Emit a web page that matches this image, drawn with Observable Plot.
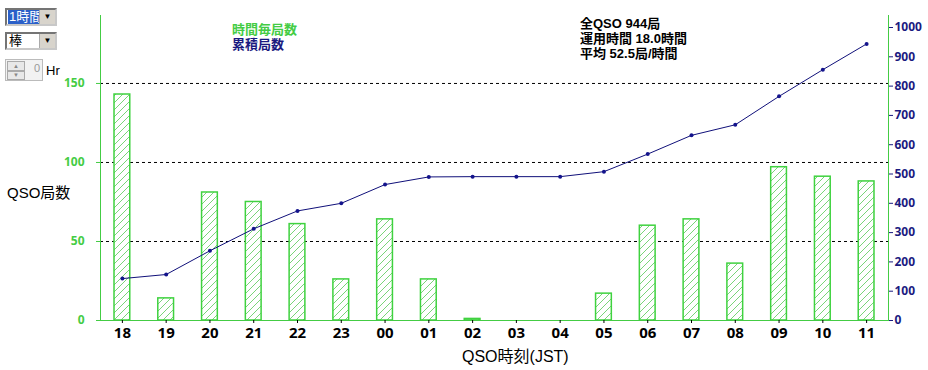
<!DOCTYPE html>
<html>
<head>
<meta charset="utf-8">
<script src="https://cdn.jsdelivr.net/npm/d3@7"></script>
<script src="https://cdn.jsdelivr.net/npm/@observablehq/plot@0.6"></script>
<style>
  html, body { margin: 0; padding: 0; background: #fff; }
  #wrap { position: relative; width: 928px; height: 370px; overflow: hidden; background: #fff;
          font-family: "Liberation Sans", "Noto Sans CJK JP", sans-serif; }
  .ov { position: absolute; white-space: nowrap; line-height: 1; }
  .combo { position: absolute; left: 5px; width: 48px; height: 14px; border: 2px inset #c8c8c8;
           background: #fff; font-size: 13px; }
  .combo .btn { position: absolute; right: 0; top: 0; width: 15px; height: 14px; background: #d8d4cc;
                border-left: 1px solid #aaa; font-size: 8px; text-align: center; line-height: 14px; color: #000; }
  .combo .txt { position: absolute; left: 1px; top: 0; height: 14px; line-height: 14px; padding: 0 1px; }
  #chart svg text { font-family: "Noto Sans", "DejaVu Sans", sans-serif; }
</style>
</head>
<body>
<div id="wrap">
  <div id="chart"></div>
  <div class="combo" style="top:8px;"><span class="txt" style="background:#2a5fc8;color:#fff;">1時間</span><span class="btn">▼</span></div>
  <div class="combo" style="top:32px;"><span class="txt" style="color:#000;">棒</span><span class="btn">▼</span></div>
  <div style="position:absolute;left:5px;top:59px;width:36px;height:20px;border:1px solid #bbb;background:#f2f2f2;">
    <div style="position:absolute;left:1px;top:1px;width:16px;height:8px;border:1px solid #aaa;background:#e8e8e8;font-size:6px;text-align:center;line-height:8px;color:#888;">▲</div>
    <div style="position:absolute;left:1px;top:11px;width:16px;height:7px;border:1px solid #aaa;background:#e8e8e8;font-size:6px;text-align:center;line-height:7px;color:#888;">▼</div>
    <div style="position:absolute;left:28px;top:2px;font-size:11px;color:#999;">0</div>
  </div>
  <div class="ov" style="left:46px;top:64px;font-size:13px;color:#000;">Hr</div>

  <div class="ov" style="left:232px;top:23px;font-size:13px;font-weight:bold;color:#44cc44;">時間毎局数</div>
  <div class="ov" style="left:232px;top:38px;font-size:13px;font-weight:bold;color:#1a1a80;">累積局数</div>

  <div class="ov" style="left:580px;top:17px;font-size:13px;font-weight:bold;color:#000;">全QSO 944局</div>
  <div class="ov" style="left:580px;top:32px;font-size:13px;font-weight:bold;color:#000;">運用時間 18.0時間</div>
  <div class="ov" style="left:580px;top:47px;font-size:13px;font-weight:bold;color:#000;">平均 52.5局/時間</div>

  <div class="ov" style="left:7px;top:185px;font-size:15px;color:#000;">QSO局数</div>
  <div class="ov" style="left:462px;top:349px;font-size:16px;color:#000;">QSO時刻(JST)</div>
</div>
<script>
// ---- data ----
const hours = ["18","19","20","21","22","23","00","01","02","03","04","05","06","07","08","09","10","11"];
const counts = [143, 14, 81, 75, 61, 26, 64, 26, 1, 0, 0, 17, 60, 64, 36, 97, 91, 88];
const cumulative = [143, 157, 238, 313, 374, 400, 464, 490, 491, 491, 491, 508, 568, 632, 668, 765, 856, 944];
const leftTicks = [0, 50, 100, 150];
const gridValues = [50, 100, 150];
const rightTicks = [0, 100, 200, 300, 400, 500, 600, 700, 800, 900, 1000];

const rows = hours.map((h, i) => ({hour: h, count: counts[i], cum: cumulative[i]}));

const leftMax = 193;
const rightMax = 1041;
const k = leftMax / rightMax;

const green = "#44cc44";
const barGreen = "#3fd23f";
const navy = "#1a1a80";

const chart = Plot.plot({
  width: 928,
  height: 370,
  marginTop: 15,
  marginBottom: 50,
  marginLeft: 100,
  marginRight: 40,
  style: {background: "transparent", overflow: "visible"},
  x: {domain: hours, paddingInner: 0.64, paddingOuter: 0.32, round: false, label: null},
  y: {domain: [0, leftMax], label: null},
  marks: [
    Plot.ruleY(gridValues, {stroke: "#000", strokeWidth: 1, strokeDasharray: "3,3"}),
    Plot.barY(rows, {x: "hour", y: "count", fill: "url(#hatch)", stroke: barGreen, strokeWidth: 1.5}),
    Plot.line(rows, {x: "hour", y: d => d.cum * k, stroke: "#10107a", strokeWidth: 1}),
    Plot.dot(rows, {x: "hour", y: d => d.cum * k, r: 2, fill: "#14148c", stroke: "none"}),
    Plot.frame({anchor: "left", stroke: green}),
    Plot.frame({anchor: "right", stroke: green}),
    Plot.frame({anchor: "bottom", stroke: green}),
    Plot.axisY(leftTicks, {anchor: "left", color: green, tickSize: 4, tickPadding: 12,
      fontSize: 12, fontWeight: "bold", label: null}),
    Plot.axisY(rightTicks, {y: d => d * k, anchor: "right", color: navy, tickSize: 4, tickPadding: 2,
      tickFormat: d => String(d), fontSize: 12, fontWeight: "bold", label: null}),
    Plot.axisX({anchor: "bottom", color: "#000", tickSize: 3, tickPadding: 4,
      fontSize: 15, fontWeight: "bold", label: null})
  ]
});

d3.select(chart).insert("defs", ":first-child").html(`
  <pattern id="hatch" patternUnits="userSpaceOnUse" width="7" height="7">
    <rect width="7" height="7" fill="#fff"/>
    <path d="M-1,1 l2,-2 M0,7 l7,-7 M6,8 l2,-2" stroke="#7ad47a" stroke-width="1"/>
  </pattern>`);

document.getElementById("chart").appendChild(chart);
</script>
</body>
</html>
